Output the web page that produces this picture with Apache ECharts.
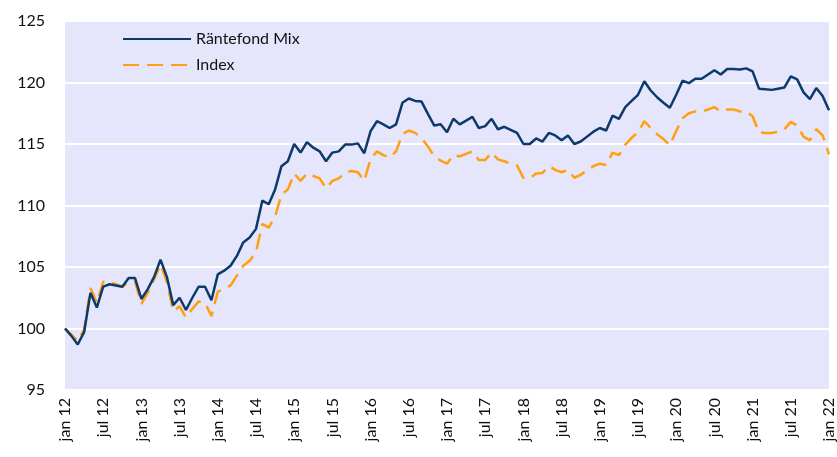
<!DOCTYPE html>
<html>
<head>
<meta charset="utf-8">
<script src="https://cdn.jsdelivr.net/npm/echarts@6/dist/echarts.min.js"></script>
<style>
  html, body { margin: 0; padding: 0; background: #ffffff; }
  #chart { width: 837px; height: 457px; }
</style>
</head>
<body>
<div id="chart"></div>
<script>
// Monthly index values, January 2012 to January 2022 (start = 100)
const monthNames = ['jan', 'feb', 'mar', 'apr', 'maj', 'jun', 'jul', 'aug', 'sep', 'okt', 'nov', 'dec'];
const startYear = 12;
const monthCount = 121;

const fundMix = [
  100.0, 99.4, 98.7, 99.7, 102.9, 101.7, 103.4, 103.6, 103.5, 103.4, 104.1, 104.1,
  102.4, 103.2, 104.2, 105.6, 104.2, 101.9, 102.5, 101.5, 102.5, 103.4, 103.4, 102.3,
  104.4, 104.7, 105.1, 105.9, 107.0, 107.4, 108.1, 110.4, 110.1, 111.3, 113.2, 113.6,
  115.0, 114.3, 115.15, 114.7, 114.4, 113.6, 114.3, 114.4, 114.95, 114.95, 115.05, 114.25,
  116.05, 116.85, 116.6, 116.3, 116.6, 118.35, 118.7, 118.5, 118.45, 117.45, 116.5, 116.6,
  115.95, 117.05, 116.6, 116.9, 117.2, 116.3, 116.45, 117.05, 116.2, 116.4, 116.15, 115.9,
  115.0, 115.0, 115.45, 115.2, 115.9, 115.7, 115.3, 115.7, 115.0, 115.2, 115.6, 116.0,
  116.3, 116.1, 117.3, 117.05, 118.0, 118.5, 119.0, 120.1, 119.35, 118.8, 118.35, 117.95,
  119.0, 120.15, 119.95, 120.3, 120.3, 120.65, 121.0, 120.65, 121.1, 121.1, 121.05, 121.15,
  120.9, 119.5, 119.45, 119.4, 119.5, 119.6, 120.5, 120.25, 119.2, 118.65, 119.55, 118.9,
  117.75
];

const benchmark = [
  100.0, 99.5, 99.0, 99.9, 103.3, 102.1, 103.8, 103.8, 103.6, 103.4, 103.8, 103.8,
  102.0, 102.9, 104.0, 105.2, 103.8, 101.4, 101.8, 100.9, 101.6, 102.2, 102.1, 101.0,
  103.0, 103.2, 103.5, 104.3, 105.1, 105.5, 106.2, 108.5, 108.2, 109.1, 110.9, 111.3,
  112.6, 112.0, 112.6, 112.4, 112.2, 111.4, 112.0, 112.2, 112.7, 112.8, 112.7, 112.0,
  113.8, 114.4, 114.1, 113.9, 114.4, 115.8, 116.1, 115.9, 115.5, 114.8, 114.0, 113.65,
  113.4, 114.1, 114.0, 114.2, 114.4, 113.7, 113.7, 114.3, 113.75, 113.6, 113.4, 113.25,
  112.25, 112.2, 112.6, 112.65, 113.2, 112.9, 112.7, 112.9, 112.25, 112.5, 112.85, 113.2,
  113.4, 113.3, 114.3, 114.1, 114.95, 115.5, 115.95, 116.85, 116.3, 115.8, 115.4, 114.9,
  116.05, 117.1, 117.5, 117.65, 117.65, 117.8, 118.0, 117.65, 117.8, 117.8, 117.65, 117.65,
  117.25, 115.95, 115.9, 115.9, 116.0, 116.2, 116.8, 116.5, 115.6, 115.3, 116.2, 115.7,
  114.15
];

const seriesNames = ['Räntefond Mix', 'Index'];
const yTicks = { min: 95, max: 125, step: 5 };

// Month labels such as "jan 12", "jul 12", ...
const months = [];
for (let i = 0; i < monthCount; i++) {
  months.push(monthNames[i % 12] + ' ' + String(startYear + Math.floor(i / 12)).padStart(2, '0'));
}

const FONT = 'Lato, "Open Sans", sans-serif';

const chart = echarts.init(document.getElementById('chart'), null, { renderer: 'canvas' });
chart.setOption({
  animation: false,
  backgroundColor: '#ffffff',
  textStyle: { fontFamily: FONT },
  grid: {
    left: 65, right: 5, top: 21, bottom: 67,
    show: true, backgroundColor: '#e5e6fb', borderWidth: 0
  },
  legend: {
    orient: 'vertical',
    left: 117, top: 26,
    itemWidth: 68, itemHeight: 16, itemGap: 10,
    // line-only legend keys (hide the marker dot)
    itemStyle: { opacity: 0 },
    textStyle: { fontFamily: FONT, fontSize: 16, color: '#111' },
    data: seriesNames
  },
  xAxis: {
    type: 'category',
    data: months,
    boundaryGap: false,
    axisLine: { show: false },
    axisTick: { show: false },
    splitLine: { show: false },
    axisLabel: {
      interval: 5,
      rotate: 90,
      margin: 8,
      fontFamily: FONT,
      fontSize: 16,
      color: '#111'
    }
  },
  yAxis: {
    type: 'value',
    min: yTicks.min, max: yTicks.max, interval: yTicks.step,
    axisLine: { show: false },
    axisTick: { show: false },
    splitLine: { show: true, lineStyle: { color: '#ffffff', width: 2 } },
    axisLabel: { margin: 20, fontFamily: FONT, fontSize: 16, color: '#111' }
  },
  series: [
    {
      name: seriesNames[0],
      type: 'line',
      data: fundMix,
      symbol: 'none',
      lineStyle: { color: '#0c3a6a', width: 2.5 },
      itemStyle: { color: '#0c3a6a' },
      z: 3
    },
    {
      name: seriesNames[1],
      type: 'line',
      data: benchmark,
      symbol: 'none',
      lineStyle: { color: '#ffa010', width: 2.5, type: [16, 8] },
      itemStyle: { color: '#ffa010' },
      z: 2
    }
  ]
});
</script>
</body>
</html>
